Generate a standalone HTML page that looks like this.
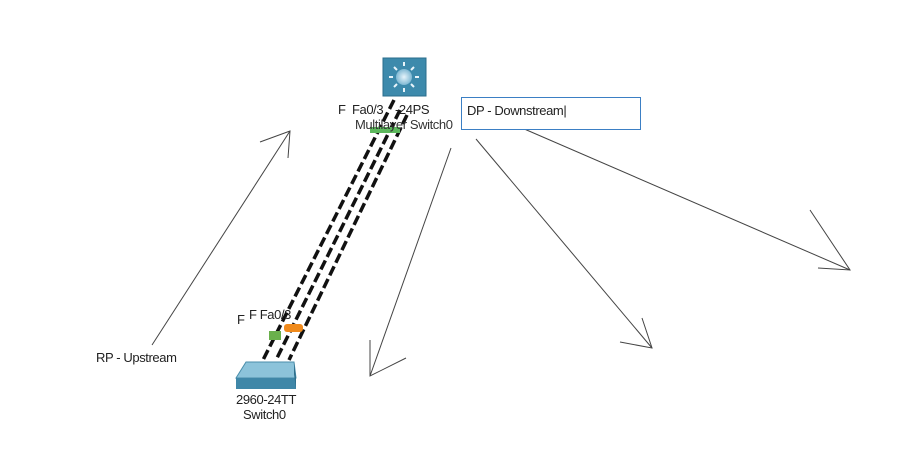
<!DOCTYPE html>
<html><head><style>
body{margin:0;width:911px;height:460px;background:#fff;overflow:hidden;position:relative;font-family:"Liberation Sans",sans-serif}
.t{position:absolute;font-size:13px;color:#222;white-space:nowrap;letter-spacing:-0.4px}
</style></head><body>
<svg width="911" height="460" style="position:absolute;left:0;top:0">
<defs>
<radialGradient id="g" cx="50%" cy="50%" r="50%"><stop offset="0" stop-color="#e6f4fb"/><stop offset="1" stop-color="#7fb8d3"/></radialGradient>
</defs>
<g stroke="#444" stroke-width="1" fill="none">
<line x1="152" y1="345" x2="290" y2="131"/><polyline points="260,142 290,131 288,158"/>
<line x1="451" y1="148" x2="370" y2="376"/><polyline points="370,340 370,376 406,358"/>
<line x1="476" y1="139" x2="652" y2="348"/><polyline points="642,318 652,348 620,342"/>
<line x1="522" y1="128" x2="850" y2="270"/><polyline points="810,210 850,270 818,268"/>
</g>
<rect x="383" y="58" width="43" height="38" fill="#3d8aac" stroke="#2a6d8c"/>
<circle cx="404" cy="77" r="8" fill="url(#g)"/>
<g stroke="#e8f4fa" stroke-width="2"><line x1="404" y1="62" x2="404" y2="66"/><line x1="404" y1="88" x2="404" y2="92"/><line x1="389" y1="77" x2="393" y2="77"/><line x1="415" y1="77" x2="419" y2="77"/><line x1="394" y1="67" x2="397" y2="70"/><line x1="411" y1="84" x2="414" y2="87"/><line x1="414" y1="67" x2="411" y2="70"/><line x1="394" y1="87" x2="397" y2="84"/></g>
<g stroke="#111" stroke-width="3.5" stroke-dasharray="10,4">
<line x1="394" y1="100" x2="263" y2="360"/>
<line x1="400" y1="110" x2="276" y2="360"/>
<line x1="407" y1="115" x2="289" y2="360"/>
</g>
<rect x="370" y="127" width="30" height="6" fill="#5cb85c"/>
<rect x="269" y="331" width="12" height="9" fill="#6ab04c"/>
<rect x="284" y="324" width="19" height="8" rx="3" fill="#f08a1c"/>
<polygon points="246,362 294,362 296,378 236,378" fill="#8cc3da" stroke="#4a8eab"/>
<rect x="236" y="378" width="60" height="11" fill="#3f87a8"/>
<polygon points="294,362 296,378 296,389 294,374" fill="#2f6f8c"/>
<rect x="461.5" y="97.5" width="179" height="32" fill="#fff" stroke="#3b7fc4" stroke-width="1"/>
</svg>
<div class="t" style="left:338px;top:102px">F&nbsp; Fa0/3</div>
<div class="t" style="left:395px;top:102px">-24PS</div>
<div class="t" style="left:355px;top:117px;color:#333">Multilayer Switch0</div>
<div class="t" style="left:237px;top:312px">F</div>
<div class="t" style="left:249px;top:307px">F Fa0/3</div>
<div class="t" style="left:236px;top:392px">2960-24TT</div>
<div class="t" style="left:243px;top:407px">Switch0</div>
<div class="t" style="left:96px;top:350px">RP - Upstream</div>
<div class="t" style="left:467px;top:103px">DP - Downstream|</div>
</body></html>
